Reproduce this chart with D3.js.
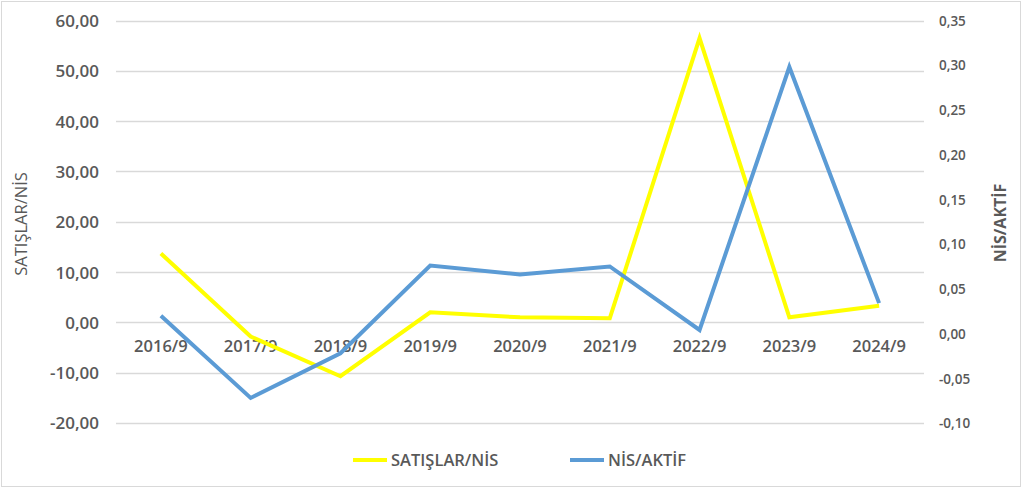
<!DOCTYPE html>
<html>
<head>
<meta charset="utf-8">
<script src="https://cdn.jsdelivr.net/npm/d3@7"></script>
<style>
  body { margin: 0; background: #fff; }
  svg text { font-family: "Open Sans", "Noto Sans", sans-serif; fill: #595959; }
</style>
</head>
<body>
<svg id="chart" width="1024" height="488"></svg>
<script>
// chart data
var categories = ["2016/9", "2017/9", "2018/9", "2019/9", "2020/9", "2021/9", "2022/9", "2023/9", "2024/9"];
var satislarNis = [13.7, -2.8, -10.7, 2.0, 1.0, 0.8, 56.5, 1.0, 3.3];
var nisAktif = [0.020, -0.072, -0.022, 0.076, 0.066, 0.075, 0.004, 0.298, 0.034];
var leftTicks = [-20, -10, 0, 10, 20, 30, 40, 50, 60];
var rightTicks = [-0.10, -0.05, 0, 0.05, 0.10, 0.15, 0.20, 0.25, 0.30, 0.35];
var seriesNames = ["SATIŞLAR/NİS", "NİS/AKTİF"];

var svg = d3.select("#chart");
var W = 1024, H = 488;
var plot = { left: 116, right: 924, top: 20.5, bottom: 423 };

// chart border
svg.append("rect")
  .attr("x", 1.5).attr("y", 1.5)
  .attr("width", W - 5).attr("height", H - 3)
  .attr("fill", "#fff")
  .attr("stroke", "#d9d9d9");

var x = d3.scaleBand().domain(categories).range([plot.left, plot.right]);
var yL = d3.scaleLinear().domain([-20, 60]).range([plot.bottom, plot.top]);
var yR = d3.scaleLinear().domain([-0.10, 0.35]).range([plot.bottom, plot.top]);

var fmt = function(d, n) { return d3.format("." + n + "f")(d).replace(".", ",").replace("−", "-"); };

// gridlines
svg.append("g").selectAll("line").data(leftTicks).enter().append("line")
  .attr("x1", plot.left).attr("x2", plot.right)
  .attr("y1", function(d) { return Math.round(yL(d)) + 0.5; })
  .attr("y2", function(d) { return Math.round(yL(d)) + 0.5; })
  .attr("stroke", "#d9d9d9").attr("stroke-width", 1.5);

// left axis labels
var leftAxis = d3.axisLeft(yL).tickValues(leftTicks).tickSize(0).tickPadding(0)
  .tickFormat(function(d) { return fmt(d, 2); });
var gl = svg.append("g").attr("transform", "translate(99,0)").call(leftAxis);
gl.select(".domain").remove();
gl.selectAll("text")
  .style("font-size", "17px").style("font-weight", 600)
  .attr("fill", "#595959").attr("dy", "0.35em");

// right axis labels
var rightAxis = d3.axisRight(yR).tickValues(rightTicks).tickSize(0).tickPadding(0)
  .tickFormat(function(d) { return fmt(d, 2); });
var gr = svg.append("g").attr("transform", "translate(939,0)").call(rightAxis);
gr.select(".domain").remove();
gr.selectAll("text")
  .style("font-size", "13.5px").style("font-weight", 600)
  .attr("fill", "#595959").attr("dy", "0.35em");

// category labels sit just under the zero line
svg.append("g").selectAll("text").data(categories).enter().append("text")
  .attr("x", function(d) { return x(d) + x.bandwidth() / 2; })
  .attr("y", yL(0) + 30)
  .attr("text-anchor", "middle")
  .style("font-size", "16.5px").style("font-weight", 600)
  .text(function(d) { return d; });

// lines
var lineL = d3.line()
  .x(function(d, i) { return x(categories[i]) + x.bandwidth() / 2; })
  .y(function(d) { return yL(d); });
var lineR = d3.line()
  .x(function(d, i) { return x(categories[i]) + x.bandwidth() / 2; })
  .y(function(d) { return yR(d); });

svg.append("path").datum(satislarNis)
  .attr("d", lineL).attr("fill", "none")
  .attr("stroke", "#ffff00").attr("stroke-width", 4)
  .attr("stroke-linejoin", "miter");

svg.append("path").datum(nisAktif)
  .attr("d", lineR).attr("fill", "none")
  .attr("stroke", "#5b9bd5").attr("stroke-width", 4)
  .attr("stroke-linejoin", "miter");

// axis titles
svg.append("text")
  .attr("transform", "translate(27,224) rotate(-90)")
  .attr("text-anchor", "middle")
  .style("font-size", "16.5px")
  .text(seriesNames[0]);

svg.append("text")
  .attr("transform", "translate(1006,223) rotate(-90)")
  .attr("text-anchor", "middle")
  .style("font-size", "16px").style("font-weight", 700)
  .text(seriesNames[1]);

// legend
var legendColors = ["#ffff00", "#5b9bd5"];
var legendX = [353, 570];
var lg = svg.append("g").selectAll("g").data(seriesNames).enter().append("g")
  .attr("transform", function(d, i) { return "translate(" + legendX[i] + ",460)"; });
lg.append("line").attr("x1", 0).attr("x2", 34).attr("y1", 0).attr("y2", 0)
  .attr("stroke", function(d, i) { return legendColors[i]; }).attr("stroke-width", 4);
lg.append("text").attr("x", 38).attr("dy", "0.35em")
  .style("font-size", "16.5px").style("font-weight", 600)
  .text(function(d) { return d; });
</script>
</body>
</html>
